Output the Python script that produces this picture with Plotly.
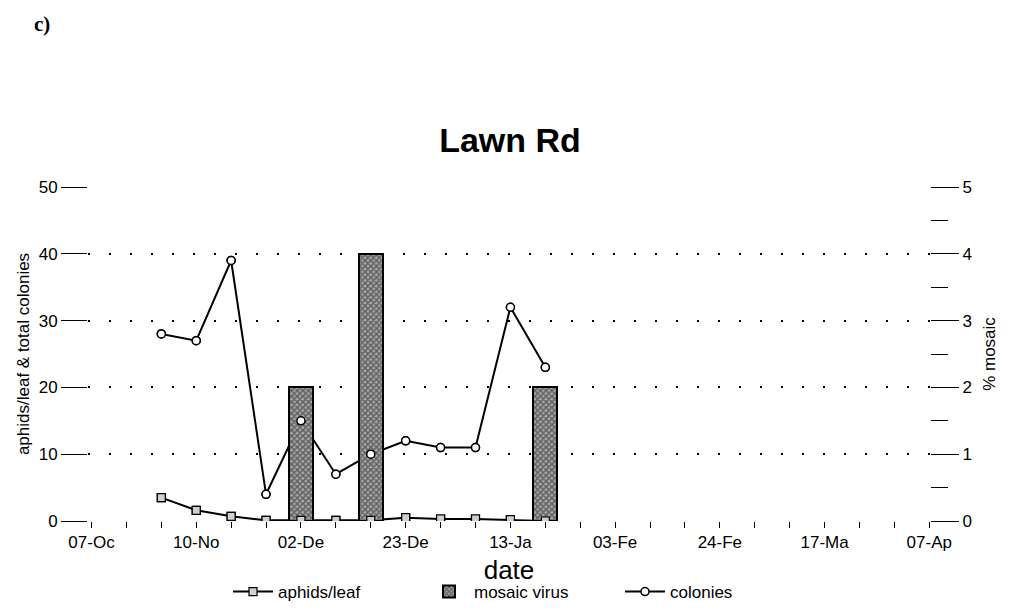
import plotly.graph_objects as go

# ---------------- data ----------------
tick_labels = ["07-Oc", "10-No", "02-De", "23-De", "13-Ja", "03-Fe", "24-Fe", "17-Ma", "07-Ap"]
tick_positions = [0, 3, 6, 9, 12, 15, 18, 21, 24]
n_positions = 25
sample_pos = [2, 3, 4, 5, 6, 7, 8, 9, 10, 11, 12, 13]
aphids_per_leaf = [3.5, 1.6, 0.7, 0.1, 0.1, 0.1, 0.1, 0.5, 0.3, 0.3, 0.2, 0.0]
colonies = [28, 27, 39, 4, 15, 7, 10, 12, 11, 11, 32, 23]
mosaic_pct = [0, 0, 0, 0, 2, 0, 4, 0, 0, 0, 0, 2]

FONT = "Liberation Sans, Arial, Helvetica, sans-serif"

all_ticks = list(range(n_positions))
all_text = [tick_labels[tick_positions.index(i)] if i in tick_positions else "" for i in all_ticks]

bar_x = [x for x, m in zip(sample_pos, mosaic_pct) if m > 0]
bar_y = [m for m in mosaic_pct if m > 0]

aphid_marker = dict(symbol="square", size=8, color="#d0d0d0", line=dict(color="black", width=1.2))
colony_marker = dict(symbol="circle", size=8, color="white", line=dict(color="black", width=1.5))

fig = go.Figure()

# lines (under the bars)
fig.add_trace(go.Scatter(
    x=sample_pos, y=aphids_per_leaf, name="aphids/leaf", mode="lines+markers",
    line=dict(color="black", width=2), marker=aphid_marker, yaxis="y"))
fig.add_trace(go.Bar(
    x=bar_x, y=bar_y, name="mosaic virus", width=0.68, yaxis="y2",
    marker=dict(color="#7a7a7a", line=dict(color="black", width=2),
                pattern=dict(shape="x", size=4, solidity=0.6, fgcolor="#111111", bgcolor="#a8a8a8"))))
fig.add_trace(go.Scatter(
    x=sample_pos, y=colonies, name="colonies", mode="lines+markers",
    line=dict(color="black", width=2), marker=colony_marker, yaxis="y"))

# markers redrawn on top of the bars
fig.add_trace(go.Scatter(
    x=sample_pos, y=aphids_per_leaf, mode="markers", showlegend=False, hoverinfo="skip",
    marker=aphid_marker, yaxis="y3"))
fig.add_trace(go.Scatter(
    x=sample_pos, y=colonies, mode="markers", showlegend=False, hoverinfo="skip",
    marker=colony_marker, yaxis="y3"))

fig.update_layout(
    width=1017, height=615,
    margin=dict(l=88, r=87, t=187, b=94, autoexpand=False),
    paper_bgcolor="white", plot_bgcolor="white",
    font=dict(family=FONT, size=17, color="black"),
    title=dict(text="<b>Lawn Rd</b>", x=0.5015, xanchor="center", y=1 - 140 / 615, yanchor="middle",
               font=dict(family=FONT, size=34, color="black")),
    showlegend=True,
    legend=dict(orientation="h", x=(228 - 88) / 842, xanchor="left", y=(521 - 592) / 334, yanchor="middle",
                font=dict(family=FONT, size=17), entrywidth=141, itemwidth=40,
                bgcolor="rgba(0,0,0,0)", traceorder="normal"),
    bargap=0,
    xaxis=dict(range=[-0.1, 24.02], tickmode="array", tickvals=all_ticks, ticktext=all_text,
               ticks="outside", ticklen=6, tickcolor="black", tickwidth=1,
               showgrid=False, zeroline=False, showline=False,
               tickfont=dict(family=FONT, size=17),
               title=dict(text="date", font=dict(family=FONT, size=26), standoff=9)),
    yaxis=dict(range=[0, 50], tickvals=[0, 10, 20, 30, 40, 50],
               ticks="outside", ticklen=26, tickcolor="black", tickwidth=1,
               showgrid=True, gridcolor="black", gridwidth=1.5, griddash="2px,19px",
               zeroline=False, showline=False,
               tickfont=dict(family=FONT, size=17),
               title=dict(text="aphids/leaf & total colonies", font=dict(family=FONT, size=17), standoff=4)),
    yaxis2=dict(range=[0, 5], overlaying="y", side="right", tickvals=[0, 1, 2, 3, 4, 5],
                ticks="outside", ticklen=28, tickcolor="black", tickwidth=1,
                minor=dict(dtick=0.5, ticks="outside", ticklen=17, tickcolor="black", showgrid=False),
                showgrid=False, zeroline=False, showline=False,
                tickfont=dict(family=FONT, size=17),
                title=dict(text="% mosaic", font=dict(family=FONT, size=17), standoff=12)),
    yaxis3=dict(range=[0, 50], overlaying="y", visible=False),
)

fig.add_annotation(text="<b>c)</b>", xref="paper", yref="paper",
                   x=(42 - 88) / 842, y=(521 - 24) / 334, xanchor="center", yanchor="middle",
                   showarrow=False, font=dict(family="Liberation Serif, Times New Roman, serif", size=21))

fig.write_html("out.html")
